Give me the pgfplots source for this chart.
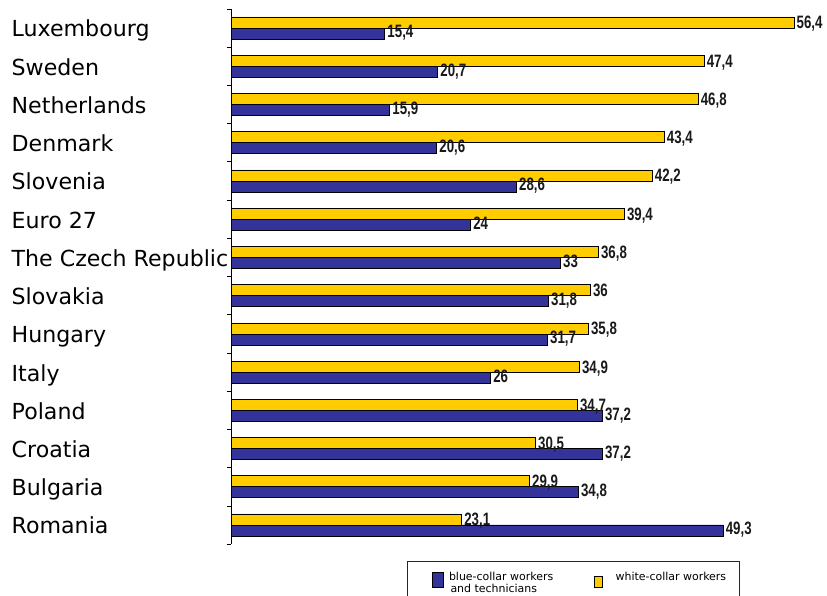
\documentclass[border=0pt]{standalone}
\usepackage{pgfplots}
\pgfplotsset{compat=1.18}
\usepackage{pgfplotstable}
\usepackage{fontspec}
\setmainfont{DejaVu Sans}
\newfontfamily\valfont{Liberation Sans}
\definecolor{wcyellow}{HTML}{FFCC00}
\definecolor{bcblue}{HTML}{333399}

\pgfplotstableread{
pos white blue
13 56.4 15.4
12 47.4 20.7
11 46.8 15.9
10 43.4 20.6
9 42.2 28.6
8 39.4 24
7 36.8 33
6 36 31.8
5 35.8 31.7
4 34.9 26
3 34.7 37.2
2 30.5 37.2
1 29.9 34.8
0 23.1 49.3
}\data

\begin{document}
\begin{tikzpicture}
\begin{axis}[
  at={(231bp,51.9bp)}, anchor=south west,
  x=9.98bp, y=38.23bp,
  xmin=0, xmax=58, ymin=-0.5, ymax=13.5,
  axis x line=none, axis y line*=left,
  xbar, bar width=11bp,
  ytick={0,...,13},
  yticklabels={Romania,Bulgaria,Croatia,Poland,Italy,Hungary,Slovakia,The Czech Republic,Euro 27,Slovenia,Denmark,Netherlands,Sweden,Luxembourg},
  major tick length=0pt,
  minor ytick={-0.5,0.5,...,13.5},
  minor tick length=4bp,
  tick align=outside,
  tick style={black, line width=0.6bp},
  axis line style={black, line width=0.8bp, -},
  yticklabel style={font=\fontsize{22.2}{22.2}\selectfont, anchor=base west, inner sep=0pt, xshift=-219.5bp, yshift=-9bp},
  xtick=\empty,
  clip=false,
  legend columns=2,
  legend style={at={(0.30406,-0.03158)}, anchor=north west, draw=black!85, line width=0.8bp, inner sep=0pt, font=\fontsize{11}{12}\selectfont, nodes={inner sep=0pt, anchor=base west}},
  nodes near coords={\scalebox{0.74}[1]{\pgfmathprintnumber{\pgfplotspointmeta}}},
  every node near coord/.append style={font=\valfont\bfseries\fontsize{18}{18}\selectfont, anchor=base west, inner sep=0pt, xshift=2.5bp, text=black!90},
  /pgf/number format/use comma,
  /pgf/number format/1000 sep={},
  /pgf/number format/assume math mode=true,
]
\addplot[fill=bcblue, draw=black, line width=0.6bp, bar shift=-5.5bp,
  nodes near coords style={yshift=-4.5bp},
  legend image code/.code={\path (-25bp,19bp) (16bp,-20bp); \draw[fill=bcblue, draw=black, line width=0.6bp] (0bp,-7bp) rectangle (11bp,8bp);}]
  table[x=blue, y=pos]{\data};
\addlegendentry{\parbox[t]{120bp}{blue-collar workers\\\hspace*{1.5bp}and technicians}}
\addplot[fill=wcyellow, draw=black, line width=0.6bp, bar shift=5.5bp,
  nodes near coords style={yshift=-6.5bp},
  legend image code/.code={\path (-25bp,19bp) (21bp,-20bp); \draw[fill=wcyellow, draw=black, line width=0.6bp] (0bp,-7bp) rectangle (7.5bp,4bp);}]
  table[x=white, y=pos]{\data};
\addlegendentry{\parbox[t]{124bp}{white-collar workers}}
\end{axis}
\pgfresetboundingbox
\useasboundingbox (0,0) rectangle (827bp,596bp);
\end{tikzpicture}
\end{document}
